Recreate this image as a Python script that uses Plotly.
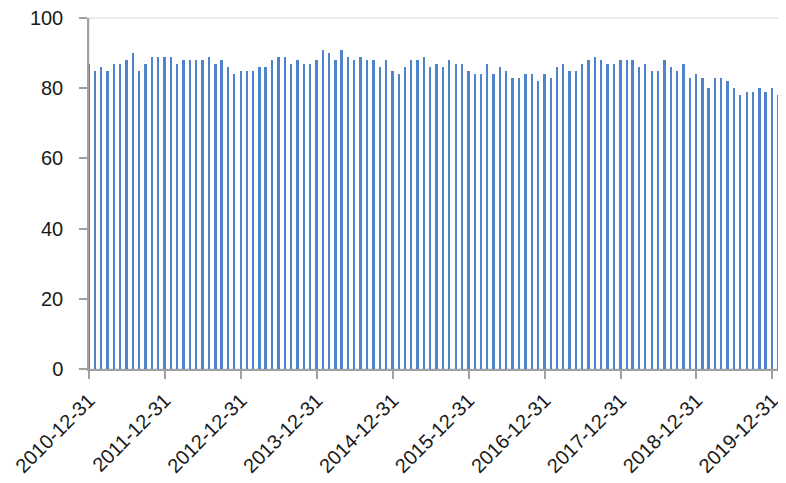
import pandas as pd
import plotly.graph_objects as go

dates = pd.date_range("2010-12-31", periods=110, freq="ME")
values = [87, 85, 86, 85, 87, 87, 88, 90, 85, 87, 89, 89, 89, 89, 87, 88, 88, 88, 88, 89, 87, 88, 86, 84, 85, 85, 85,
          86, 86, 88, 89, 89, 87, 88, 87, 87, 88, 91, 90, 88, 91, 89, 88, 89, 88, 88, 86, 88, 85, 84, 86, 88, 88, 89,
          86, 87, 86, 88, 87, 87, 85, 84, 84, 87, 84, 86, 85, 83, 83, 84, 84, 82, 84, 83, 86, 87, 85, 85, 87, 88, 89,
          88, 87, 87, 88, 88, 88, 86, 87, 85, 85, 88, 86, 85, 87, 83, 84, 83, 80, 83, 83, 82, 80, 78, 79, 79, 80, 79, 80, 78]
tick_dates = pd.date_range("2010-12-31", periods=10, freq="YE")
y_ticks = [0, 20, 40, 60, 80, 100]

fig = go.Figure(go.Bar(
    x=dates, y=values,
    width=9 * 86400000,
    marker=dict(color="#4F83CC", line=dict(width=0)),
))

axis_col = "#A0A0A0"
font = dict(family="Arial, Liberation Sans, sans-serif", size=20, color="#1a1a1a")

fig.update_layout(
    width=778, height=475,
    margin=dict(l=81, r=7, t=10, b=114),
    paper_bgcolor="white", plot_bgcolor="white",
    showlegend=False,
    font=font,
    bargap=0,
)
fig.update_xaxes(
    type="date",
    range=["2010-12-31", "2020-02-01"],
    tickvals=list(tick_dates),
    tickformat="%Y-%m-%d",
    tickangle=-45,
    automargin=False,
    ticklabeloverflow="allow",
    showgrid=False, zeroline=False,
    showline=True, linecolor=axis_col, linewidth=1.5,
    ticks="outside", ticklen=8, tickcolor=axis_col, tickwidth=1.5,
    ticklabelstandoff=2,
    tickfont=font,
)
fig.update_yaxes(
    range=[0, 100],
    tickvals=y_ticks,
    automargin=False,
    ticklabeloverflow="allow",
    showgrid=False, zeroline=False,
    showline=True, linecolor=axis_col, linewidth=1.5,
    ticks="outside", ticklen=8, tickcolor=axis_col, tickwidth=1.5,
    ticklabelstandoff=12,
    tickfont=font,
)
fig.add_shape(type="rect", xref="paper", yref="paper", x0=0, x1=1, y0=0, y1=1,
              line=dict(color="#D9D9D9", width=1), layer="below")

fig.write_html("out.html")
